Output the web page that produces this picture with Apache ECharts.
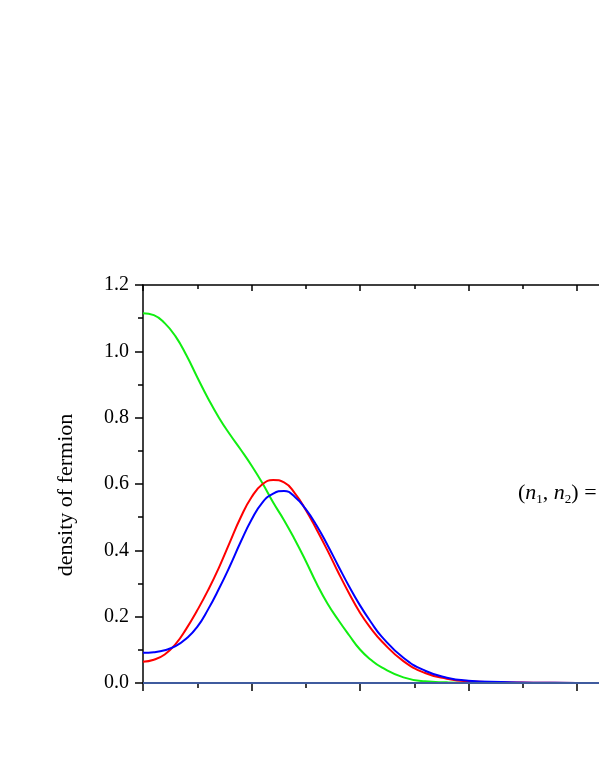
<!DOCTYPE html>
<html>
<head>
<meta charset="utf-8">
<script src="https://cdn.jsdelivr.net/npm/echarts@6/dist/echarts.min.js"></script>
<style>html,body{margin:0;padding:0;background:#fff;overflow:hidden;width:599px;height:776px;}#c{width:720px;height:776px;}</style>
</head>
<body>
<div id="c"></div>
<script>
const xs = [0,0.1,0.2,0.3,0.4,0.5,0.6,0.7,0.8,0.9,1.0,1.1,1.2,1.3,1.4,1.5,1.6,1.7,1.8,1.9,2.0,2.1,2.2,2.4,2.6,2.8,3.0,3.3,3.6,4.0,4.5,5.0];
const green = [1.115,1.109,1.085,1.045,0.988,0.922,0.858,0.800,0.750,0.704,0.656,0.603,0.544,0.491,0.432,0.368,0.300,0.240,0.190,0.144,0.101,0.070,0.047,0.017,0.005,0.002,0.0005,0,0,0,0,0];
const red = [0.064,0.070,0.086,0.117,0.164,0.219,0.280,0.348,0.424,0.499,0.560,0.599,0.612,0.605,0.572,0.522,0.463,0.400,0.333,0.270,0.212,0.165,0.126,0.066,0.030,0.013,0.005,0.002,0.001,0,0,0];
const blue = [0.091,0.093,0.099,0.111,0.134,0.169,0.222,0.284,0.352,0.425,0.492,0.544,0.571,0.579,0.561,0.524,0.475,0.416,0.353,0.291,0.234,0.184,0.140,0.076,0.037,0.016,0.007,0.003,0.001,0.0003,0,0];
const zeroLine = [0,0,0,0,0,0,0,0,0,0,0,0,0,0,0,0,0,0,0,0,0,0,0,0,0,0,0,0,0,0,0,0];
const yTicks = ['0.0','0.2','0.4','0.6','0.8','1.0','1.2'];
const yTitle = 'density of fermion';

const pairs = arr => xs.map((x,i)=>[x,arr[i]]);
const font = 'Liberation Serif';
const chart = echarts.init(document.getElementById('c'), null, {renderer:'canvas'});
const lineS = (data,color,w,z) => ({type:'line', data:pairs(data), smooth:0.5, showSymbol:false, symbol:'none', lineStyle:{color:color,width:w}, z:z, animation:false});
chart.setOption({
  animation:false,
  backgroundColor:'#fff',
  grid:{left:143, top:285, height:398, width:542.5},
  xAxis:[{
    type:'value', min:0, max:5, interval:1, position:'bottom',
    axisLine:{show:true, onZero:false, lineStyle:{color:'#000', width:1.5}},
    axisTick:{show:true, inside:false, length:8, lineStyle:{color:'#000', width:1.5}},
    minorTick:{show:true, splitNumber:2, length:5, lineStyle:{color:'#000', width:1.5}},
    axisLabel:{show:false}, splitLine:{show:false}, minorSplitLine:{show:false}
  },{
    type:'value', min:0, max:5, interval:1, position:'top',
    axisLine:{show:true, onZero:false, lineStyle:{color:'#000', width:1.5}},
    axisTick:{show:true, inside:true, length:6, lineStyle:{color:'#000', width:1.5}},
    minorTick:{show:true, splitNumber:2, length:4, lineStyle:{color:'#000', width:1.5}},
    axisLabel:{show:false}, splitLine:{show:false}
  }],
  yAxis:{
    type:'value', min:0, max:1.2, interval:0.2,
    axisLine:{show:true, onZero:false, lineStyle:{color:'#000', width:1.5}},
    axisTick:{show:true, inside:false, length:8, lineStyle:{color:'#000', width:1.5}},
    minorTick:{show:true, splitNumber:2, length:5, lineStyle:{color:'#000', width:1.5}},
    axisLabel:{show:true, margin:14, fontFamily:font, fontSize:20, color:'#000',
      formatter:(v)=>{const i=Math.round(v/0.2); return yTicks[i]!==undefined?yTicks[i]:'';}},
    splitLine:{show:false}
  },
  series:[
    lineS(green,'#11ee11',2,3),
    lineS(red,'#ff0000',2,4),
    lineS(blue,'#0000ff',2,5),
    lineS(zeroLine,'#3f5b9e',2,6)
  ],
  graphic:[{
    type:'text', x:66, y:495, rotation:Math.PI/2, z:100,
    style:{text:yTitle, fontFamily:font, fontSize:22, fill:'#000', align:'center', verticalAlign:'middle'}
  },{
    type:'text', left:518, top:482, z:100,
    style:{
      rich:{
        t:{fontFamily:font, fontSize:22, fill:'#000'},
        i:{fontFamily:font, fontSize:22, fontStyle:'italic', fill:'#000'},
        s:{fontFamily:font, fontSize:13, fill:'#000', padding:[13,0,0,0]}
      },
      text:'{t|(}{i|n}{s|1}{t|, }{i|n}{s|2}{t|) = }'
    }
  }]
});
</script>
</body>
</html>
